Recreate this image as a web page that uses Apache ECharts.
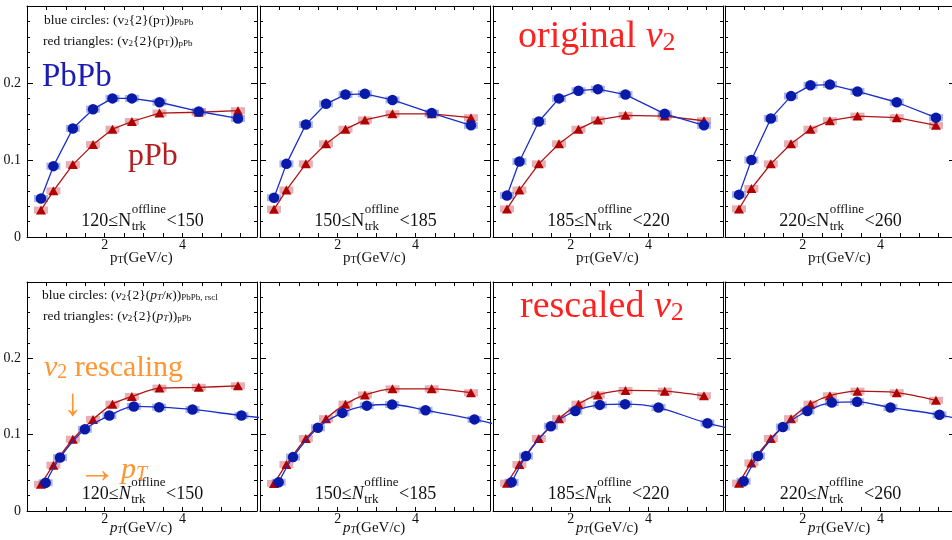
<!DOCTYPE html>
<html><head><meta charset="utf-8">
<script src="https://cdn.jsdelivr.net/npm/echarts@6/dist/echarts.min.js"></script>
<style>html,body{margin:0;padding:0;background:#fff}#c{width:952px;height:540px}</style>
</head><body><div id="c"></div>
<script>
// ---------------- data ----------------
const ptOrig = [0.36, 0.68, 1.18, 1.70, 2.20, 2.70, 3.41, 4.42, 5.43];   // pT (GeV/c)
const ptRscl = [0.48, 0.85, 1.49, 2.12, 2.75, 3.40, 4.26, 5.52, 6.80];   // pT / kappa
const multBins = ['120', '150', '185', '220', '260'];
// pPb v2{2}
const red1 = [0.035, 0.060, 0.094, 0.120, 0.140, 0.150, 0.161, 0.162, 0.164];
const red2 = [0.036, 0.061, 0.095, 0.121, 0.140, 0.152, 0.160, 0.160, 0.155];
const red3 = [0.0365, 0.061, 0.095, 0.121, 0.140, 0.152, 0.158, 0.157, 0.151];
const red4 = [0.0365, 0.063, 0.095, 0.121, 0.140, 0.151, 0.157, 0.155, 0.145];
// PbPb v2{2} original
const blue1 = [0.050, 0.092, 0.141, 0.166, 0.180, 0.180, 0.175, 0.163, 0.154];
const blue2 = [0.051, 0.095, 0.146, 0.173, 0.185, 0.186, 0.178, 0.161, 0.145];
const blue3 = [0.054, 0.098, 0.150, 0.180, 0.190, 0.192, 0.185, 0.160, 0.145];
const blue4 = [0.055, 0.100, 0.154, 0.183, 0.197, 0.198, 0.189, 0.175, 0.155];
// PbPb v2{2} rescaled
const rscl1 = [0.037, 0.070, 0.107, 0.125, 0.137, 0.136, 0.133, 0.125, 0.118];
const rscl2 = [0.0377, 0.0706, 0.109, 0.1285, 0.138, 0.1395, 0.132, 0.120, 0.104];
const rscl3 = [0.0377, 0.072, 0.111, 0.131, 0.139, 0.140, 0.1355, 0.115, 0.101];
const rscl4 = [0.039, 0.072, 0.110, 0.131, 0.142, 0.143, 0.1355, 0.126, 0.111];
const yTicks = ['0', '0.1', '0.2'];

// ---------------- layout / style ----------------
const SERIF = '"Liberation Serif", "Times New Roman", serif';
const XMAX = 5.92;
const lefts = [27, 260, 493, 725];
const W = 230;
const rows = [{ top: 6, h: 231 }, { top: 282, h: 229 }];
const BLUE = '#0a1aa8', BLUE_LINE = '#1a2ec8', RED = '#b00000', RED_LINE = '#b01414';
const BLUE_BOX = 'rgba(100,118,215,0.55)', RED_BOX = 'rgba(205,95,105,0.5)';

const reds = [red1, red2, red3, red4];
const blues = [blue1, blue2, blue3, blue4];
const rscls = [rscl1, rscl2, rscl3, rscl4];
const pairs = (xs, ys) => xs.map((x, k) => [x, ys[k]]);

const grids = [], xAxes = [], yAxes = [], series = [];
function isTick(v, t) { return Math.abs(v - t) < 1e-6; }

for (let g = 0; g < 8; g++) {
  const r = g < 4 ? 0 : 1, c = g % 4;
  grids.push({ left: lefts[c], top: rows[r].top, width: W, height: rows[r].h, containLabel: false, outerBoundsMode: 'none' });
  const xBase = {
    type: 'value', gridIndex: g, min: 0, max: XMAX, interval: 0.5,
    axisLine: { show: true, onZero: false, lineStyle: { color: '#000', width: 1 } },
    axisTick: { show: true, inside: true, length: 4, lineStyle: { color: '#000', width: 1 } },
    splitLine: { show: false }, minorTick: { show: false }
  };
  xAxes.push(Object.assign({}, xBase, {
    position: 'bottom',
    axisLabel: {
      show: true, margin: 1, fontFamily: SERIF, fontSize: 14, color: '#111',
      formatter: v => (isTick(v, 2) ? '2' : isTick(v, 4) ? '4' : '')
    }
  }));
  xAxes.push(Object.assign({}, xBase, { position: 'top', axisLabel: { show: false } }));
  const yBase = {
    type: 'value', gridIndex: g, min: 0, max: 0.3, interval: 0.1,
    axisLine: { show: true, onZero: false, lineStyle: { color: '#000', width: 1 } },
    axisTick: { show: true, inside: true, length: 6, lineStyle: { color: '#000', width: 1 } },
    minorTick: { show: true, splitNumber: 5, length: 3, lineStyle: { color: '#000', width: 1 } },
    splitLine: { show: false }
  };
  yAxes.push(Object.assign({}, yBase, {
    position: 'left',
    axisLabel: {
      show: c === 0, margin: 6, fontFamily: SERIF, fontSize: 14, color: '#111',
      formatter: v => (isTick(v, 0) ? yTicks[0] : isTick(v, 0.1) ? yTicks[1] : isTick(v, 0.2) ? yTicks[2] : '')
    }
  }));
  yAxes.push(Object.assign({}, yBase, { position: 'right', axisLabel: { show: false } }));

  const redData = pairs(ptOrig, reds[c]);
  const blueData = r === 0 ? pairs(ptOrig, blues[c]) : pairs(ptRscl, rscls[c]);
  const box = color => (params, api) => {
    const p = api.coord([api.value(0), api.value(1)]);
    return { type: 'rect', shape: { x: p[0] - 7, y: p[1] - 3.5, width: 14, height: 7 }, style: { fill: color } };
  };
  series.push({ type: 'custom', xAxisIndex: 2 * g, yAxisIndex: 2 * g, clip: true, z: 2, renderItem: box(RED_BOX), data: redData });
  series.push({ type: 'custom', xAxisIndex: 2 * g, yAxisIndex: 2 * g, clip: true, z: 2, renderItem: box(BLUE_BOX), data: blueData });
  series.push({
    type: 'line', xAxisIndex: 2 * g, yAxisIndex: 2 * g, data: redData, clip: true, z: 3,
    smooth: r === 1 ? 0.3 : false, symbol: 'triangle', symbolSize: [10, 9],
    itemStyle: { color: RED }, lineStyle: { color: RED_LINE, width: 1.3 }, animation: false
  });
  series.push({
    type: 'line', xAxisIndex: 2 * g, yAxisIndex: 2 * g, data: blueData, clip: true, z: 4,
    smooth: r === 1 ? 0.3 : false, symbol: 'circle', symbolSize: 10.5,
    itemStyle: { color: BLUE }, lineStyle: { color: BLUE_LINE, width: 1.3 }, animation: false
  });
}

// ---------------- text helpers ----------------
const ctx = document.createElement('canvas').getContext('2d');
function measure(t, size, italic) { ctx.font = (italic ? 'italic ' : '') + size + 'px ' + SERIF; return ctx.measureText(t).width; }
function sub(F, f, d, italic) { return { fontSize: f, fontFamily: SERIF, fontStyle: italic ? 'italic' : 'normal', verticalAlign: 'bottom', lineHeight: Math.max(1, 0.34 * F - 2 * d + 0.66 * f) }; }
function it(F) { return { fontSize: F, fontFamily: SERIF, fontStyle: 'italic', lineHeight: F }; }
function txt(x, baseline, text, F, color, rich, italic) {
  return {
    type: 'text', x: x, y: baseline - 0.34 * F, z: 100, silent: true,
    style: { text: text, fontSize: F, fontFamily: SERIF, fontStyle: italic ? 'italic' : 'normal', fill: color, align: 'left', verticalAlign: 'middle', lineHeight: F, rich: rich || {} }
  };
}
const graphics = [];
function nLabel(cx, base, lo, hi, italicN) {
  const F = 18, f = 13;
  const a = lo + '\u2264', b = '<' + hi;
  const wa = measure(a, F), wn = measure('N', F, italicN), ws = Math.max(measure('offline', f), measure('trk', f)), wb = measure(b, F);
  const x0 = cx - (wa + wn + ws + wb) / 2;
  graphics.push(txt(x0, base, a, F, '#111'));
  graphics.push(txt(x0 + wa, base, 'N', F, '#111', null, italicN));
  graphics.push(txt(x0 + wa + wn + 0.5, base - 13, 'offline', f, '#111'));
  graphics.push(txt(x0 + wa + wn + 0.5, base + 4, 'trk', f, '#111'));
  graphics.push(txt(x0 + wa + wn + ws + 1, base, b, F, '#111'));
}
for (let c = 0; c < 4; c++) {
  nLabel(lefts[c] + W / 2, 227, multBins[c], multBins[c + 1], false);
  nLabel(lefts[c] + W / 2, 500, multBins[c], multBins[c + 1], true);
  // x-axis titles
  graphics.push(txt(lefts[c] + W / 2 - 32, 263, 'p{s|T}(GeV/c)', 15, '#111', { s: sub(15, 10, 3) }));
  graphics.push(txt(lefts[c] + W / 2 - 32, 533, '{i|p}{s|T}(GeV/c)', 15, '#111', { i: it(15), s: sub(15, 10, 3, true) }));
}
// notes
graphics.push(txt(44, 25, 'blue circles: (v{s|2}{2}(p{s|T})){s|PbPb}', 13.5, '#111', { s: sub(13.5, 9, 3) }));
graphics.push(txt(43, 46, 'red triangles: (v{s|2}{2}(p{s|T})){s|pPb}', 13.5, '#111', { s: sub(13.5, 9, 3) }));
graphics.push(txt(42, 300, 'blue circles: ({i|v}{s|2}{2}({i|p}{si|T}/{i|\u03ba})){s|PbPb, rscl}', 13.5, '#111', { i: it(13.5), s: sub(13.5, 9, 3), si: sub(13.5, 9, 3, true) }));
graphics.push(txt(43, 321, 'red triangles: ({i|v}{s|2}{2}({i|p}{si|T})){s|pPb}', 13.5, '#111', { i: it(13.5), s: sub(13.5, 9, 3), si: sub(13.5, 9, 3, true) }));
graphics.push(txt(42, 89, 'PbPb', 33, '#1c1cb4'));
graphics.push(txt(128, 167, 'pPb', 32, '#b41e1e'));
graphics.push(txt(518, 50, 'original {i|v}{s|2}', 38, '#ff2020', { i: it(38), s: sub(38, 26, 5) }));
graphics.push(txt(520, 320, 'rescaled {i|v}{s|2}', 38, '#ff2020', { i: it(38), s: sub(38, 26, 5) }));
graphics.push(txt(44, 378, '{i|v}{s|2} rescaling', 30, '#ff9430', { i: it(30), s: sub(30, 20, 4) }));
graphics.push(txt(63, 418, '\u2193', 38, '#ff9430'));
graphics.push(txt(78, 485, '\u2192', 38, '#ff9430'));
graphics.push(txt(121, 480, '{i|p}{s|T}', 30, '#ff9430', { i: it(30), s: sub(30, 20, 4, true) }));

const chart = echarts.init(document.getElementById('c'), null, { renderer: 'canvas' });
chart.setOption({
  animation: false,
  backgroundColor: '#fff',
  grid: grids, xAxis: xAxes, yAxis: yAxes, series: series,
  graphic: graphics
});
</script></body></html>
